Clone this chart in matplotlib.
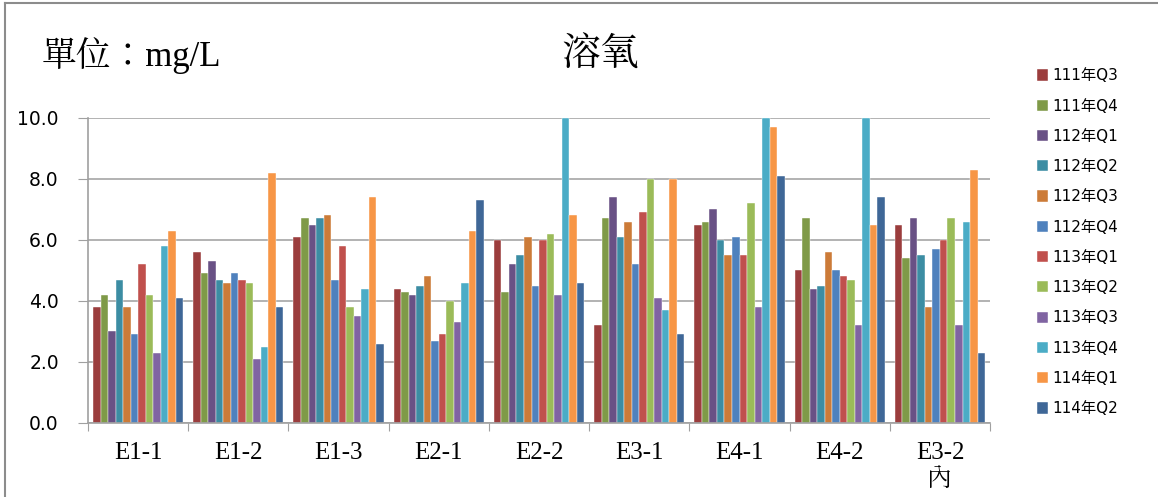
import numpy as np
import matplotlib
matplotlib.use("Agg")
import matplotlib.pyplot as plt
from matplotlib.patches import Patch
from matplotlib.lines import Line2D

# stations and quarters
stations = ["E1-1", "E1-2", "E1-3", "E2-1", "E2-2", "E3-1", "E4-1", "E4-2", "E3-2\n內"]
quarters = ["111年Q3", "111年Q4", "112年Q1", "112年Q2", "112年Q3", "112年Q4",
            "113年Q1", "113年Q2", "113年Q3", "113年Q4", "114年Q1", "114年Q2"]

# dissolved oxygen (mg/L), one list per quarter, in station order
q111_3 = [3.8, 5.6, 6.1, 4.4, 6.0, 3.2, 6.5, 5.0, 6.5]
q111_4 = [4.2, 4.9, 6.7, 4.3, 4.3, 6.7, 6.6, 6.7, 5.4]
q112_1 = [3.0, 5.3, 6.5, 4.2, 5.2, 7.4, 7.0, 4.4, 6.7]
q112_2 = [4.7, 4.7, 6.7, 4.5, 5.5, 6.1, 6.0, 4.5, 5.5]
q112_3 = [3.8, 4.6, 6.8, 4.8, 6.1, 6.6, 5.5, 5.6, 3.8]
q112_4 = [2.9, 4.9, 4.7, 2.7, 4.5, 5.2, 6.1, 5.0, 5.7]
q113_1 = [5.2, 4.7, 5.8, 2.9, 6.0, 6.9, 5.5, 4.8, 6.0]
q113_2 = [4.2, 4.6, 3.8, 4.0, 6.2, 8.0, 7.2, 4.7, 6.7]
q113_3 = [2.3, 2.1, 3.5, 3.3, 4.2, 4.1, 3.8, 3.2, 3.2]
q113_4 = [5.8, 2.5, 4.4, 4.6, 10.0, 3.7, 10.0, 10.0, 6.6]
q114_1 = [6.3, 8.2, 7.4, 6.3, 6.8, 8.0, 9.7, 6.5, 8.3]
q114_2 = [4.1, 3.8, 2.6, 7.3, 4.6, 2.9, 8.1, 7.4, 2.3]

series = [q111_3, q111_4, q112_1, q112_2, q112_3, q112_4,
          q113_1, q113_2, q113_3, q113_4, q114_1, q114_2]
colors = ["#9b3d3d", "#7f9a48", "#695185", "#3c8da3", "#cc7b38", "#4f81bd",
          "#c0504d", "#9bbb59", "#8064a2", "#4bacc6", "#f79646", "#3f6797"]

serif = ["Liberation Serif", "Noto Serif CJK TC", "Noto Sans CJK TC"]
sans = ["DejaVu Sans", "Noto Sans CJK TC"]

fig = plt.figure(figsize=(11.58, 4.97), dpi=100)
ax = fig.add_axes([0.076, 0.149, 0.779, 0.614])

n = len(series)
group_w = 0.9
bw = group_w / n
x = np.arange(len(stations))
for i, (vals, c) in enumerate(zip(series, colors)):
    ax.bar(x - group_w / 2 + bw * (i + 0.5), vals, width=bw, color=c,
           edgecolor="white", linewidth=0.3, label=quarters[i])

ax.set_xlim(-0.5, len(stations) - 0.5)
ax.set_ylim(0, 10)
ax.set_yticks(np.arange(0, 10.1, 2))
ax.set_yticklabels([f"{v:.1f}" for v in np.arange(0, 10.1, 2)],
                   fontsize=13.5, family=sans)
ax.yaxis.grid(True, color="#a6a6a6", linewidth=1.2)
ax.set_axisbelow(True)

# category boundary ticks, labels in the middle
ax.set_xticks(np.arange(len(stations) + 1) - 0.5)
ax.set_xticklabels([])
ax.set_xticks(x, minor=True)
ax.set_xticklabels(stations, minor=True, fontsize=18, family=serif,
                   linespacing=1.25)
ax.tick_params(axis="x", which="minor", length=0, pad=14)
ax.tick_params(axis="x", which="major", length=6, color="#a0a0a0")
ax.tick_params(axis="y", length=7, color="#a0a0a0", pad=14)

for s in ["top", "right"]:
    ax.spines[s].set_visible(False)
for s in ["left", "bottom"]:
    ax.spines[s].set_color("#a0a0a0")
    ax.spines[s].set_linewidth(1.2)

fig.text(0.036, 0.888, "單位：mg/L", fontsize=25, family=serif, va="center")
fig.text(0.518, 0.888, "溶氧", fontsize=28, family=serif, va="center", ha="center")

handles = [Patch(facecolor=c, edgecolor="white", linewidth=0.3) for c in colors]
leg = fig.legend(handles, quarters, loc="upper left",
                 bbox_to_anchor=(0.89, 0.875), frameon=False,
                 prop={"family": sans, "size": 11},
                 handlelength=0.75, handleheight=0.75, handletextpad=0.3,
                 labelspacing=1.0, borderaxespad=0)

# outer frame (left and top edges visible)
fig.add_artist(Line2D([0.0045, 0.0045], [0, 0.993], color="#8c8c8c", lw=1.5,
                      transform=fig.transFigure))
fig.add_artist(Line2D([0.0045, 1.0], [0.993, 0.993], color="#8c8c8c", lw=1.5,
                      transform=fig.transFigure))

fig.savefig("out.png", dpi=100)
